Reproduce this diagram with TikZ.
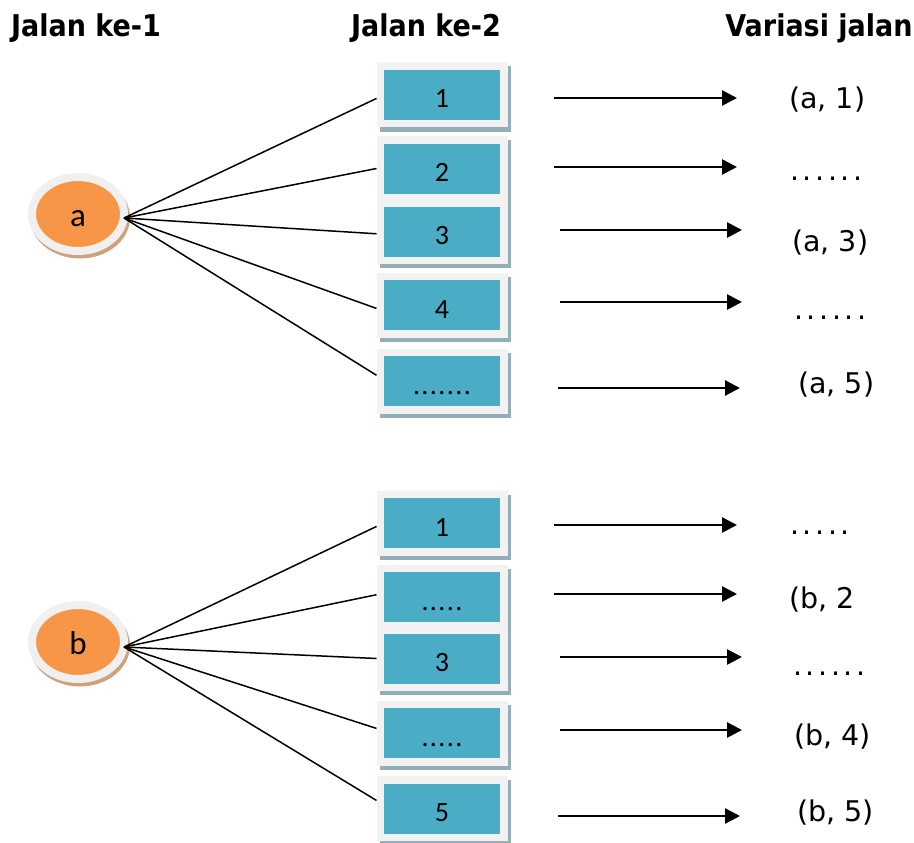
\documentclass[tikz,border=0pt]{standalone}
\usepackage{fontspec}
\usetikzlibrary{arrows.meta,shapes.geometric}
\setmainfont{DejaVu Sans}
\newfontfamily\headfont{DejaVu Sans Condensed Bold}
\newfontfamily\cellfont{Carlito}
\newfontfamily\celldots[LetterSpace=5]{Carlito}
\newfontfamily\dotfont[LetterSpace=12.5]{DejaVu Sans}

\definecolor{cellteal}{HTML}{4BACC6}
\definecolor{cellframe}{HTML}{F2F2F2}
\definecolor{cellshadow}{HTML}{94AEB8}
\definecolor{orangefill}{HTML}{F79646}
\definecolor{ringgray}{HTML}{F0F0F0}
\definecolor{ringshadow}{HTML}{CFA27E}

\tikzset{
  cell/.style={rectangle, fill=cellteal, draw=cellframe, line width=7.5pt,
    minimum width=123.5pt, minimum height=57.5pt, inner sep=0pt,
    text height=26pt, text depth=0pt,
    font=\cellfont\fontsize{28}{28}\selectfont,
    preaction={draw=cellshadow, fill=cellshadow,
      transform canvas={xshift=3.5pt, yshift=-4pt}}},
  person/.style={ellipse, fill=orangefill, draw=ringgray, line width=8pt,
    minimum width=92pt, minimum height=74pt, inner sep=0pt,
    text height=24pt, text depth=0pt,
    font=\cellfont\fontsize{33}{33}\selectfont,
    preaction={draw=ringshadow, fill=ringshadow,
      transform canvas={xshift=2pt, yshift=-3.5pt}}},
  head/.style={anchor=base, inner sep=0pt, font=\headfont\fontsize{30}{30}\selectfont},
  pair/.style={anchor=base west, inner sep=0pt, font=\fontsize{28.5}{28.5}\selectfont},
  dotpair/.style={anchor=base west, inner sep=0pt, font=\dotfont\fontsize{28.5}{28.5}\selectfont},
  link/.style={draw=black, line width=1.5pt},
  flow/.style={draw=black, line width=2.7pt, -{Triangle[length=15pt,width=15pt]}},
}

\begin{document}
\begin{tikzpicture}[x=1pt,y=-1pt]
  \path[use as bounding box, fill=white] (0,0) rectangle (914,843);

  % column headings
  \node[head] (h1) at (86,37) {Jalan ke-1};
  \node[head] (h2) at (426,37) {Jalan ke-2};
  \node[head] (h3) at (819,37) {Variasi jalan};

  % first road choices
  \node[person] (pa) at (78,214) {a};
  \node[cell] (a1) at (442,95) {1};
  \node[cell] (a2) at (442,168.5) {2};
  \node[cell] (a3) at (442,231.5) {3};
  \node[cell] (a4) at (442,305) {4};
  \node[cell] (a5) at (442,381) {\celldots .......};

  \node[person] (pb) at (78,642) {b};
  \node[cell] (b1) at (442,523) {1};
  \node[cell] (b2) at (442,597) {\celldots .....};
  \node[cell] (b3) at (442,658.5) {3};
  \node[cell] (b4) at (442,733) {\celldots .....};
  \node[cell] (b5) at (442,808.5) {5};

  % fan of connections from each first road
  \coordinate (fa) at (124,218);
  \coordinate (fb) at (124,647);
  \foreach \t/\ang in {a1/183, a2/180, a3/182, a4/183, a5/175}
    \draw[link] (fa) -- (\t.\ang);
  \foreach \t/\ang in {b1/183, b2/178, b3/180, b4/176, b5/173}
    \draw[link] (fb) -- (\t.\ang);

  % arrows towards the resulting combinations
  \foreach \n/\xs/\xe/\y in {ra1/554/737/98, ra2/554/737/167, ra3/560/742/230,
      ra4/560/742/302, ra5/558/740/388, rb1/554/737/525, rb2/554/737/594,
      rb3/560/742/657, rb4/560/742/730, rb5/558/740/816} {
    \coordinate (\n s) at (\xs,\y);
    \coordinate (\n e) at (\xe,\y);
    \draw[flow] (\n s) -- (\n e);
  }

  % resulting combinations
  \node[pair] (va1) at (789,109) {(a, 1)};
  \node[dotpair] (va2) at (790,180) {......};
  \node[pair] (va3) at (792,251) {(a, 3)};
  \node[dotpair] (va4) at (794,319) {......};
  \node[pair] (va5) at (798,393) {(a, 5)};

  \node[dotpair] (vb1) at (790,534) {.....};
  \node[pair] (vb2) at (789,608) {(b, 2};
  \node[dotpair] (vb3) at (793,675) {......};
  \node[pair] (vb4) at (794,745) {(b, 4)};
  \node[pair] (vb5) at (797,821) {(b, 5)};
\end{tikzpicture}
\end{document}
